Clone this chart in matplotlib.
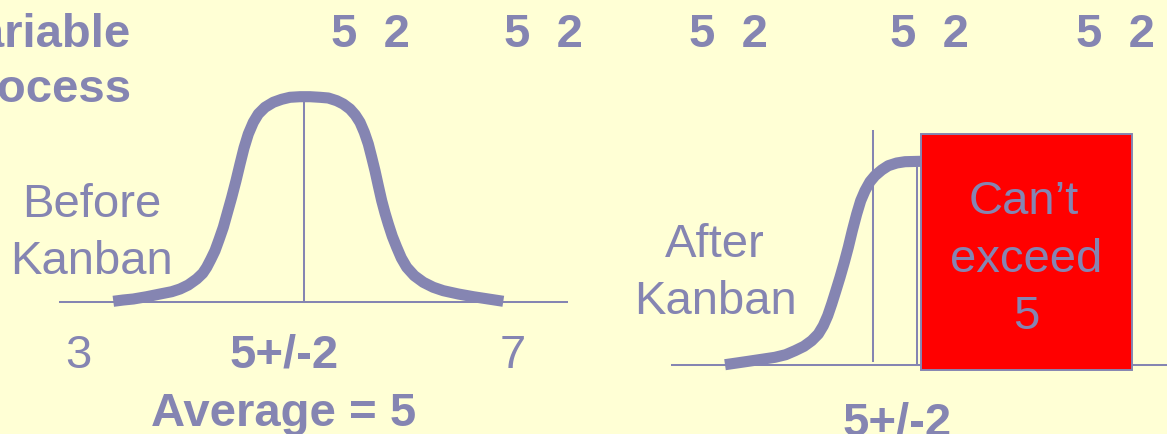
import matplotlib
matplotlib.use("Agg")
import matplotlib.pyplot as plt
from matplotlib.patches import Rectangle

plt.rcParams['font.family'] = ['Liberation Sans', 'DejaVu Sans']

BG = '#FFFFD5'
PURPLE = '#8585B2'
RED = '#FF0000'

# "Before Kanban" distribution curve (pixel units)
before_x = [113.3, 123.3, 133.3, 146.7, 160, 171.7, 180, 188.3, 196.7, 202.7, 206.7, 211,
            215, 219, 223.3, 227.3, 231.7, 236, 240, 244, 248.3, 253.3, 258.3, 265,
            273.3, 281.7, 290, 300, 310,
            320, 328.3, 336.7, 343.3, 350, 355.3, 360, 364.3, 368.3, 371.7, 375, 378.3,
            381.7, 385, 388.3, 392.3, 396.7, 401.3, 406.7, 414.3, 423.3, 433.3, 443.3,
            458.3, 473.3, 488.3, 503.3]
before_y = [302.3, 301, 300, 297.7, 295, 292.7, 290, 286, 280, 274.3, 268.3, 260,
            251.7, 240.7, 228.3, 214, 198.3, 181.7, 165, 149, 135, 123.3, 115, 108.3,
            103.3, 100.3, 98.3, 97.7, 97.7,
            98.3, 99, 101.7, 105, 110, 116, 123.3, 133.3, 145, 158.3, 171.7, 186.7,
            201.7, 214, 225, 237.3, 248.3, 259, 268.3, 276.7, 283.3, 288.3, 291.7,
            295, 297.7, 300, 302.3]

# "After Kanban" curve, truncated at the limit of 5
after_x = [725, 736.7, 748.3, 761.7, 775, 785.7, 795, 804, 811.7, 818.3, 823.3, 827.7,
           831.7, 835.7, 840, 844.3, 848.3, 852.3, 856.7, 860.7, 865, 870, 875, 881.7,
           888.3, 896.7, 905, 921]
after_y = [365.7, 364, 362.3, 360.3, 358.3, 355.7, 351.7, 347.3, 341.7, 335, 326.7, 316.7,
           305, 292.3, 278.3, 263.3, 248.3, 231.7, 215, 201.7, 191.7, 182.7, 176.7, 171,
           166.7, 164, 162.7, 162.3]

# axes / reference lines
left_axis = dict(x0=60, x1=567, y=303.3)
left_mean = dict(x=304, y0=303.3, y1=98)
right_axis = dict(x0=672, x1=1167, y=366)
right_mean = dict(x=872.5, y0=362, y1=132)
right_limit = dict(x=916.5, y0=366, y1=160)
limit_box = dict(x0=920.7, x1=1132.3, y0=135, y1=371)

# header numbers
header_text = "5  2"
header_x = [370, 543.5, 728.5, 929, 1115]

FS = 34

fig = plt.figure(figsize=(11.67, 4.35), dpi=100)
fig.patch.set_facecolor(BG)
ax = fig.add_axes([0, 0, 1, 1])
ax.set_facecolor(BG)
ax.set_xlim(0, 1167)
ax.set_ylim(435, 0)
ax.axis('off')

lw_thin = 1.45
ax.plot([left_axis['x0'], left_axis['x1']], [left_axis['y']] * 2, color=PURPLE, lw=lw_thin, zorder=1)
ax.plot([left_mean['x']] * 2, [left_mean['y0'], left_mean['y1']], color=PURPLE, lw=lw_thin, zorder=1)
ax.plot([right_axis['x0'], right_axis['x1']], [right_axis['y']] * 2, color=PURPLE, lw=lw_thin, zorder=1)
ax.plot([right_mean['x']] * 2, [right_mean['y0'], right_mean['y1']], color=PURPLE, lw=lw_thin, zorder=1)
ax.plot([right_limit['x']] * 2, [right_limit['y0'], right_limit['y1']], color=PURPLE, lw=lw_thin, zorder=1)

ax.plot(before_x, before_y, color=PURPLE, lw=8.0, solid_capstyle='butt', solid_joinstyle='round', zorder=2)
ax.plot(after_x, after_y, color=PURPLE, lw=8.0, solid_capstyle='butt', solid_joinstyle='round', zorder=2)

ax.add_patch(Rectangle((limit_box['x0'], limit_box['y0']),
                       limit_box['x1'] - limit_box['x0'], limit_box['y1'] - limit_box['y0'],
                       facecolor=RED, edgecolor=PURPLE, lw=1.4, zorder=3))

def txt(x, y, s, bold=False, ha='center'):
    ax.text(x, y, s, fontsize=FS, color=PURPLE, ha=ha, va='baseline',
            fontweight='bold' if bold else 'normal', zorder=4)

# title fragments (cut off at left edge, as in the reference)
txt(131, 47, "Variable", bold=True, ha='right')
txt(132, 102, "Process", bold=True, ha='right')

for hx in header_x:
    txt(hx, 47, header_text, bold=True)

# left panel
txt(92, 217, "Before")
txt(92, 274, "Kanban")
txt(78.5, 368, "3")
txt(513, 368, "7")
txt(284, 368, "5+/-2", bold=True)
txt(284, 426, "Average = 5", bold=True)

# right panel
txt(715, 257, "After")
txt(715, 314, "Kanban")
txt(897, 436, "5+/-2", bold=True)
txt(1024, 214, "Can\u2019t")
txt(1026, 272, "exceed")
txt(1026, 329, "5")

fig.savefig("out.png", dpi=100, facecolor=BG)
